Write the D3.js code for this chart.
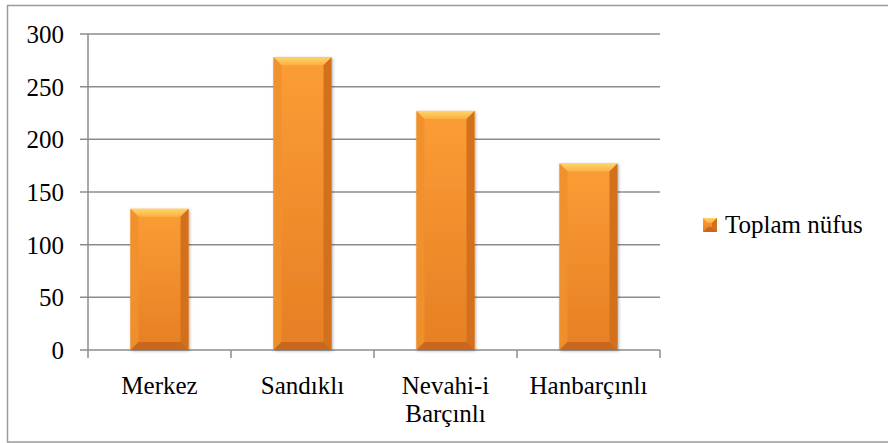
<!DOCTYPE html>
<html>
<head>
<meta charset="utf-8">
<script src="https://cdn.jsdelivr.net/npm/d3@7"></script>
<style>
  body { margin: 0; background: #fff; }
  svg text { font-family: "Liberation Serif", "Times New Roman", serif; fill: #000; }
</style>
</head>
<body>
<svg id="chart" width="888" height="443"></svg>
<script>
const categories = ['Merkez', 'Sandıklı', 'Nevahi-i Barçınlı', 'Hanbarçınlı']
const values = [134, 278, 227, 177]
const yTicks = [0, 50, 100, 150, 200, 250, 300]
const seriesName = 'Toplam nüfus'

const svg = d3.select('#chart')
const FONT = 25
const BEVEL = 8

const x = d3.scaleBand().domain(categories).range([88, 660]).paddingInner(0.594).paddingOuter(0.297)
const y = d3.scaleLinear().domain([0, 300]).range([350, 34])

// chart border
svg.append('rect')
  .attr('x', 7.5).attr('y', 5.5).attr('width', 884).attr('height', 436.5)
  .attr('fill', '#fff').attr('stroke', '#9a9a9a').attr('stroke-width', 1.5)

const defs = svg.append('defs')
const fillGrad = defs.append('linearGradient').attr('id', 'fillGrad').attr('x1', 0).attr('y1', 0).attr('x2', 0).attr('y2', 1)
fillGrad.append('stop').attr('offset', '0%').attr('stop-color', '#fb9d35')
fillGrad.append('stop').attr('offset', '100%').attr('stop-color', '#e67f25')

const topGrad = defs.append('linearGradient').attr('id', 'topGrad').attr('x1', 0).attr('y1', 0).attr('x2', 0).attr('y2', 1)
topGrad.append('stop').attr('offset', '0%').attr('stop-color', '#ffd56c')
topGrad.append('stop').attr('offset', '100%').attr('stop-color', '#fbb040')

const shadow = defs.append('filter').attr('id', 'shadow').attr('x', '-20%').attr('y', '-20%').attr('width', '140%').attr('height', '140%')
shadow.append('feDropShadow').attr('dx', 1).attr('dy', 1).attr('stdDeviation', 1.5).attr('flood-color', '#000').attr('flood-opacity', 0.3)

// gridlines
svg.append('g').selectAll('line').data(yTicks).join('line')
  .attr('x1', 80).attr('x2', 660)
  .attr('y1', d => y(d)).attr('y2', d => y(d))
  .attr('stroke', '#8c8c8c').attr('stroke-width', 1.5)

// y axis line
svg.append('line').attr('x1', 88).attr('x2', 88).attr('y1', y(300)).attr('y2', 358)
  .attr('stroke', '#8c8c8c').attr('stroke-width', 1.5)

// x ticks at category boundaries
const bounds = categories.map(c => x(c) - x.step() * x.paddingInner() / 2).concat([660])
svg.append('g').selectAll('line').data(bounds.slice(1)).join('line')
  .attr('x1', d => d).attr('x2', d => d).attr('y1', 350).attr('y2', 358)
  .attr('stroke', '#8c8c8c').attr('stroke-width', 1.5)

// y tick labels
svg.append('g').selectAll('text').data(yTicks).join('text')
  .attr('x', 64).attr('y', d => y(d) + 9)
  .attr('text-anchor', 'end').attr('font-size', FONT)
  .text(d => d)

// bars
const bars = svg.append('g').selectAll('g').data(categories).join('g')
  .attr('filter', 'url(#shadow)')

bars.each(function (c, i) {
  const g = d3.select(this)
  const x0 = x(c), x1 = x(c) + x.bandwidth()
  const y0 = y(values[i]), y1 = y(0)
  const b = BEVEL
  g.append('rect').attr('x', x0).attr('y', y0).attr('width', x1 - x0).attr('height', y1 - y0).attr('fill', 'url(#fillGrad)')
  // bevel faces
  g.append('path').attr('d', `M${x0},${y0}L${x1},${y0}L${x1 - b},${y0 + b}L${x0 + b},${y0 + b}Z`).attr('fill', 'url(#topGrad)')
  g.append('path').attr('d', `M${x0},${y0}L${x0 + b},${y0 + b}L${x0 + b},${y1 - b}L${x0},${y1}Z`).attr('fill', '#f0902e').attr('opacity', 0.9)
  g.append('path').attr('d', `M${x1},${y0}L${x1},${y1}L${x1 - b},${y1 - b}L${x1 - b},${y0 + b}Z`).attr('fill', '#d3701f')
  g.append('path').attr('d', `M${x0},${y1}L${x0 + b},${y1 - b}L${x1 - b},${y1 - b}L${x1},${y1}Z`).attr('fill', '#c9681d')
})

// category labels
svg.append('g').selectAll('text').data(categories).join('text')
  .attr('x', d => x(d) + x.bandwidth() / 2).attr('y', 394)
  .attr('text-anchor', 'middle').attr('font-size', FONT)
  .each(function (d) {
    const t = d3.select(this)
    d.split(' ').forEach((w, k) => {
      t.append('tspan').attr('x', x(d) + x.bandwidth() / 2).attr('dy', k === 0 ? 0 : 28).text(w)
    })
  })

// legend
const lg = svg.append('g')
lg.append('rect').attr('x', 703).attr('y', 218).attr('width', 14).attr('height', 14).attr('fill', 'url(#fillGrad)')
lg.append('path').attr('d', 'M703,218L717,218L712,223L708,223Z').attr('fill', 'url(#topGrad)')
lg.append('path').attr('d', 'M717,218L717,232L712,227L712,223Z').attr('fill', '#d3701f')
lg.append('path').attr('d', 'M703,232L708,227L712,227L717,232Z').attr('fill', '#c9681d')
lg.append('text').attr('x', 725).attr('y', 233).attr('font-size', FONT).text(seriesName)
</script>
</body>
</html>
